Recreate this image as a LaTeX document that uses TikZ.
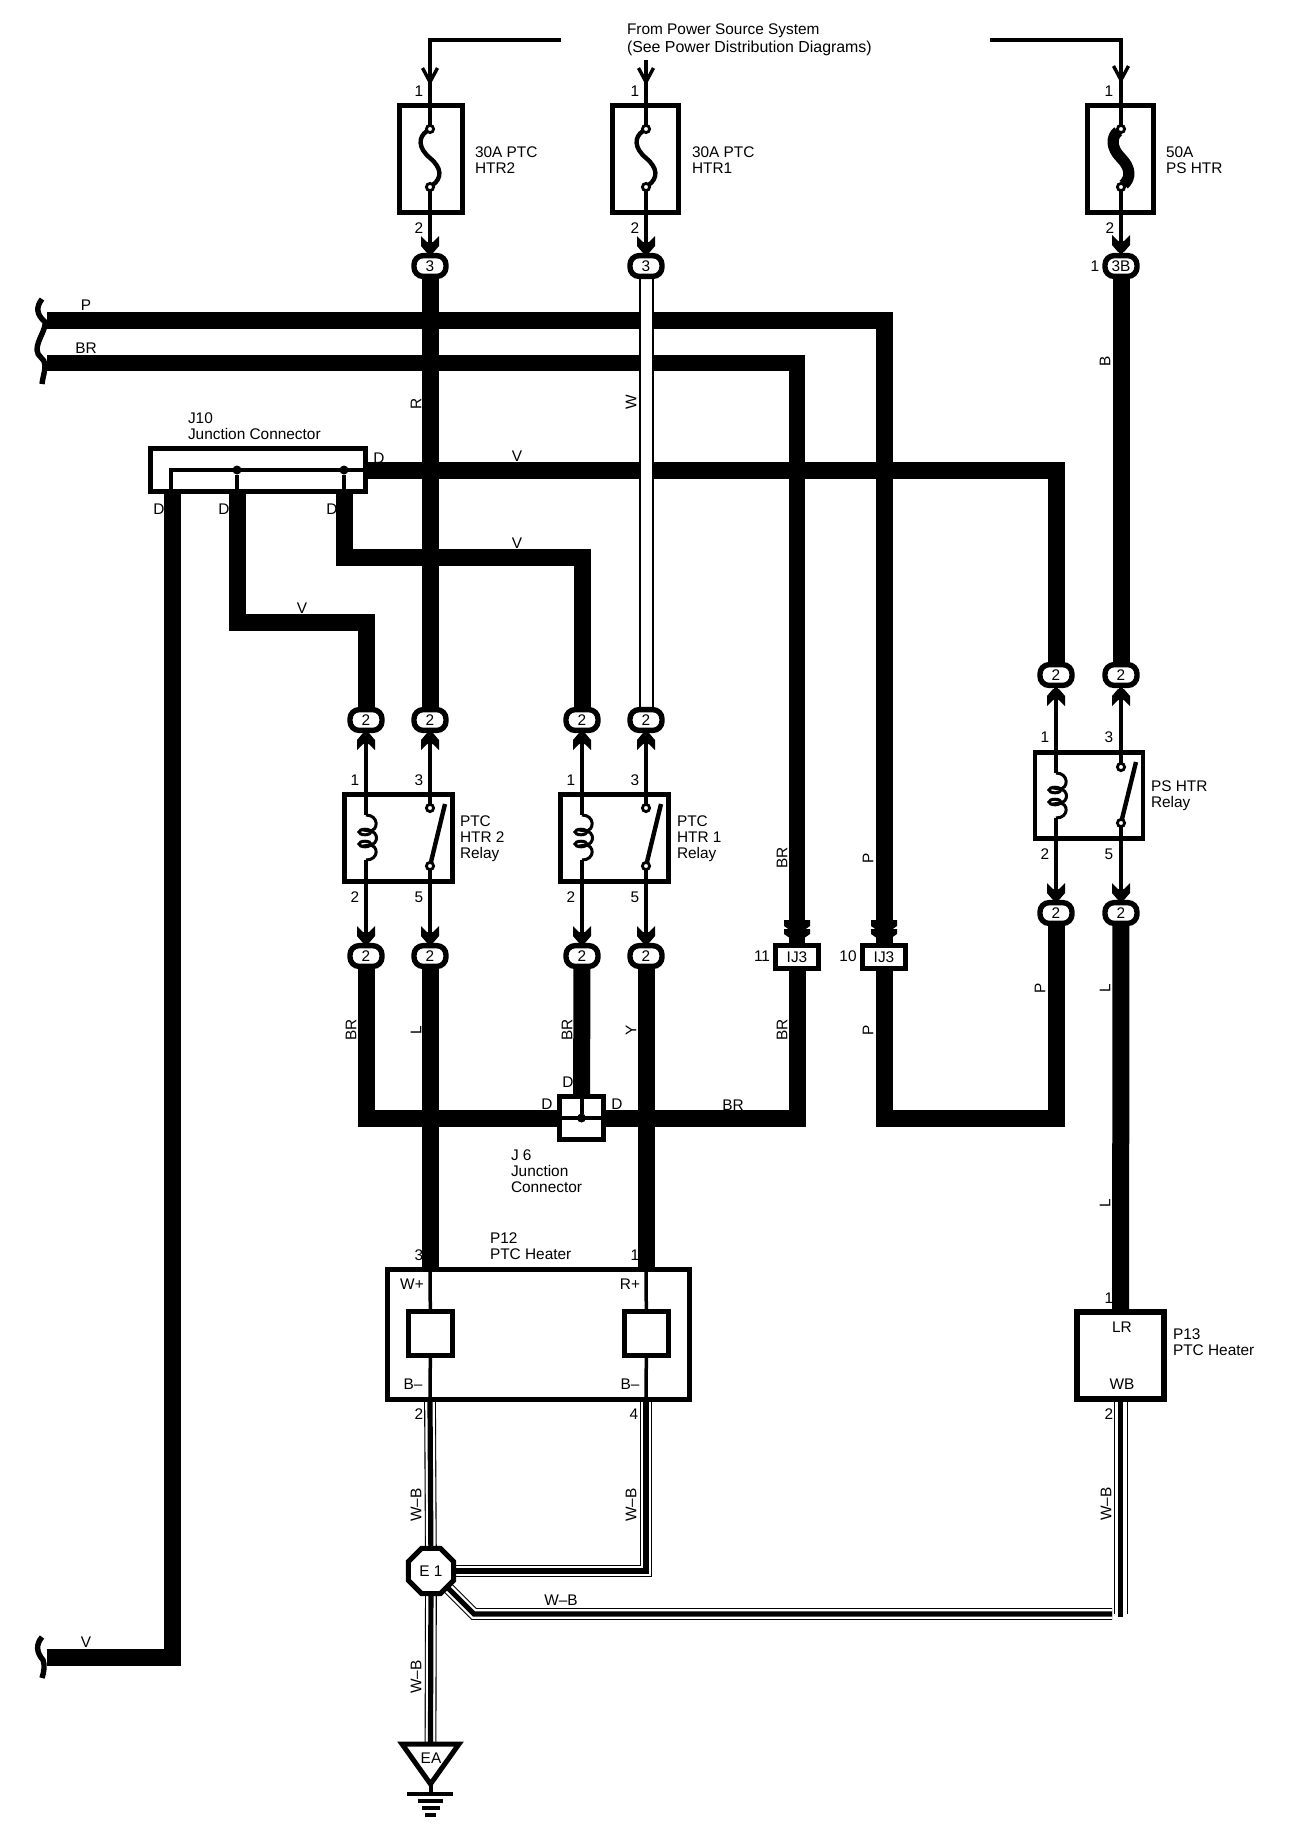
\documentclass[tikz,border=0pt]{standalone}
\usepackage{fontspec}
\setmainfont{Liberation Sans}
\usetikzlibrary{shapes.geometric,calc}
\pgfdeclarelayer{bgw}
\pgfdeclarelayer{fg}
\pgfsetlayers{bgw,main,fg}
\tikzset{
  every node/.style={inner sep=0pt,outer sep=0pt},
  lbl/.style={font=\fontsize{7.7}{8}\selectfont,align=left},
  lblw/.style={lbl,anchor=west},
  wireT/.style={line width=8.5pt,line join=miter},
  wireS/.style={line width=1.75pt},
  wb/.style={line width=4.8pt,white,line join=miter,
     preaction={draw,black,line width=5.9pt},
     postaction={draw,black,line width=2.6pt}},
  wbw/.style={line width=6pt,white,
     preaction={draw,black,line width=7pt}},
  wbs/.style={line width=2.7pt},
  fuse/.style={draw,fill=white,line width=2.5pt,minimum width=31.5pt,minimum height=53.5pt},
  relay/.style={draw,fill=white,line width=2.5pt,minimum width=54pt,minimum height=43.5pt},
  boxb/.style={draw,fill=white,line width=2.4pt},
  oval/.style={rectangle,rounded corners=4.6pt,draw,fill=white,line width=2.7pt,minimum width=16pt,minimum height=10.4pt,lbl},
  ijbox/.style={draw,fill=white,line width=2.5pt,minimum width=21.5pt,minimum height=11.5pt,lbl},
  term/.style={circle,draw,fill=white,line width=1.4pt,minimum size=3.6pt},
  jdot/.style={circle,fill=black,minimum size=4.5pt},
  blade/.style={line width=2.2pt},
  dhead/.pic={\fill (-9,-17) -- (-3,-11) -- (3,-11) -- (9,-17) -- (9,-7) -- (3,0) -- (-3,0) -- (-9,-7) -- cycle;},
  ohead/.pic={\draw[line width=1.7pt] (-7.5,-14) -- (0,0) -- (7.5,-14);},
  dchev/.pic={\fill (-13,-23) -- (13,-23) -- (13,-17) -- (0,-8) -- (-13,-17) -- cycle;
              \fill (-13,-14) -- (13,-14) -- (13,-9) -- (0,0) -- (-13,-9) -- cycle;},
  coilsym/.pic={\draw[line width=1.5pt] (0,0) .. controls (13,0) and (13,16) .. (3,16)
                 .. controls (13,16) and (13,30) .. (3,30)
                 .. controls (13,30) and (13,45) .. (0,45);
                \draw[line width=1.5pt] (-1,17) ellipse [x radius=6,y radius=2.8];
                \draw[line width=1.5pt] (-1,29) ellipse [x radius=6,y radius=2.8];}
}
\begin{document}
\begin{tikzpicture}[x=0.5pt,y=-0.5pt]
\useasboundingbox (0,0) rectangle (1312,1838);

% ---- free ends
\coordinate (topA) at (561,40);
\coordinate (topB) at (646,60);
\coordinate (topC) at (990,40);
\coordinate (pStart) at (47,320);
\coordinate (brStart) at (47,363);
\coordinate (vEnd) at (47,1657);
\coordinate (jA) at (172,470);
\coordinate (jA1) at (171,470);
\coordinate (elbB) at (300,622);
\coordinate (elbC) at (500,557);
\coordinate (pElb) at (970,1118);
\coordinate (pL) at (430,1270);
\coordinate (pR) at (646,1270);
\coordinate (pLb) at (430,1402);
\coordinate (pRb) at (646,1402);
\coordinate (elbE) at (474,1614);
\coordinate (endH) at (1112,1614);
\coordinate (p13b) at (1120.5,1402);
\coordinate (endV) at (1120.5,1614);
\coordinate (endS) at (1120.5,1617);
\coordinate (gtop) at (430.5,1744);
\coordinate (gtip) at (430.5,1784);
\coordinate (gl) at (402,1744);
\coordinate (gr) at (459,1744);
\coordinate (gb0) at (430.5,1794);

% ---- fuses
\node[fuse] (fuseA) at (431,158.5) {};
\node[fuse,minimum width=33pt] (fuseB) at (645.5,158.5) {};
\node[fuse,minimum width=33pt] (fuseC) at (1120.5,158.5) {};
\node[term] (tAt) at (430,129) {};
\node[term] (tAb) at (430,187) {};
\node[term] (tBt) at (646,129) {};
\node[term] (tBb) at (646,187) {};
\node[term] (tCt) at (1121,129) {};
\node[term] (tCb) at (1121,187) {};

% ---- connectors (ovals)
\node[oval] (ovR3) at (430,266) {3};
\node[oval] (ovW3) at (646,266) {3};
\node[oval] (ovB3) at (1121,266) {3B};
\node[oval] (ovV1) at (366,720) {2};
\node[oval] (ovR2) at (430,720) {2};
\node[oval] (ovV2) at (582,720) {2};
\node[oval] (ovW2) at (646,720) {2};
\node[oval] (ovBr1) at (366,956) {2};
\node[oval] (ovL1) at (430,956) {2};
\node[oval] (ovBr2) at (582,956) {2};
\node[oval] (ovY) at (646,956) {2};
\node[oval] (ovV3) at (1056,675) {2};
\node[oval] (ovB2) at (1121,675) {2};
\node[oval] (ovP3) at (1056,913) {2};
\node[oval] (ovL2) at (1121,913) {2};

% ---- relays
\node[relay] (relA) at (398.5,838) {};
\node[relay] (relB) at (614.5,838) {};
\node[relay,minimum height=43pt,line width=2.2pt] (relC) at (1089,795.5) {};
\node[term] (sAt) at (430,808) {};
\node[term] (sAb) at (430,866) {};
\node[term] (sBt) at (646,808) {};
\node[term] (sBb) at (646,866) {};
\node[term] (sCt) at (1121,767) {};
\node[term] (sCb) at (1121,823) {};
\coordinate (bA) at (445,804);
\coordinate (bB) at (661,804);
\coordinate (bC) at (1136,762);
\coordinate (cAt) at (366,815);
\coordinate (cAb) at (366,860);
\coordinate (cBt) at (582,815);
\coordinate (cBb) at (582,860);
\coordinate (cCt) at (1056,773);
\coordinate (cCb) at (1056,818);

% ---- junctions
\node[boxb,minimum width=107.6pt,minimum height=21.5pt] (J10) at (258,470) {};
\node[jdot] (dB) at (237,470) {};
\node[jdot] (dC) at (344,470) {};
\node[boxb,minimum width=22pt,minimum height=21.5pt] (J6) at (581.5,1118) {};
\node[jdot] (dJ) at (581.5,1118) {};
\node[ijbox] (ijA) at (797,957) {IJ3};
\node[ijbox] (ijB) at (884,957) {IJ3};

% ---- heaters
\node[boxb,minimum width=151pt,minimum height=65pt] (P12) at (538.5,1334.5) {};
\node[boxb,minimum width=22pt,minimum height=22pt] (hL) at (430.5,1333.5) {};
\node[boxb,minimum width=22pt,minimum height=22pt] (hR) at (646.5,1333.5) {};
\node[boxb,line width=2.8pt,minimum width=43.5pt,minimum height=43.5pt] (P13) at (1120.5,1355.5) {};

% ---- splice and ground
\node[regular polygon,regular polygon sides=8,draw,fill=white,line width=2.5pt,minimum size=24.5pt,lbl] (E1) at (431,1571) {E 1};

\begin{pgfonlayer}{bgw}
  \draw[wireT] (pStart) -| (ijB);
  \draw[wireT,line width=8pt] (brStart) -| (ijA);
  \draw[wireT] (J10) -| (ovV3);
  \draw[wireT] (dC) |- (elbC) -| (ovV2);
  \draw[wireT] (dB) |- (elbB) -| (ovV1);
  \draw[wireT] (jA) |- (vEnd);
  \draw[wireT] (ovR3) -- (ovR2);
  \draw[wireT] (ovB3) -- (ovB2);
  \draw[wireT] (ovL1) -- (pL);
  \draw[wireT] (ovY) -- (pR);
  \draw[wireT] (ovL2) -- (P13);
  \draw[wireT] (ovBr1) |- (J6);
  \draw[wireT] (J6) -| (ijA);
  \draw[wireT] (ovBr2) -- (J6);
  \draw[wireT] (ijB) |- (pElb) -| (ovP3);
  % white wire W
  \draw[line width=7.5pt] (ovW3) -- (ovW2);
  \draw[line width=5.5pt,white] (ovW3) -- (ovW2);
  % W-B wires
  \draw[wb] (pLb) -- (E1);
  \draw[wb] (pRb) |- (E1);
  \draw[wb] (E1) -- (elbE) -- (endH);
  \draw[wb] (E1) -- (gtop);
  \draw[wbw] (p13b) -- (endV);
  \draw[wbs] (p13b) -- (endS);
\end{pgfonlayer}

\begin{pgfonlayer}{fg}
  % supply lines
  \draw[wireS] (topA) -| (tAt);
  \draw[wireS] (topB) -- (tBt);
  \draw[wireS] (topC) -| (tCt);
  \pic at (430,82) {ohead};
  \pic at (646,82) {ohead};
  \pic at (1121,80) {ohead};
  % fuses
  \draw[line width=2.2pt] (tAt) .. controls (418,137) and (418,148) .. (430,158) .. controls (442,168) and (442,178) .. (tAb);
  \draw[line width=2.2pt] (tBt) .. controls (634,137) and (634,148) .. (646,158) .. controls (658,168) and (658,178) .. (tBb);
  \draw[line width=5.6pt] (tCt) .. controls (1111,137) and (1111,148) .. (1121,158) .. controls (1131,168) and (1131,178) .. (tCb);
  \draw[wireS] (tAb) -- (ovR3);
  \draw[wireS] (tBb) -- (ovW3);
  \draw[wireS] (tCb) -- (ovB3);
  \pic at (430,253) {dhead};
  \pic at (646,253) {dhead};
  \pic at (1121,252) {dhead};
  % relay A
  \draw[wireS] (ovV1) -- (cAt);
  \draw[wireS] (ovR2) -- (sAt);
  \draw[wireS] (cAb) -- (ovBr1);
  \draw[wireS] (sAb) -- (ovL1);
  \draw[blade] (sAb) -- (bA);
  \pic at (cAt) {coilsym};
  \pic[yscale=-1] at (366,733) {dhead};
  \pic[yscale=-1] at (430,733) {dhead};
  \pic at (366,943) {dhead};
  \pic at (430,943) {dhead};
  % relay B
  \draw[wireS] (ovV2) -- (cBt);
  \draw[wireS] (ovW2) -- (sBt);
  \draw[wireS] (cBb) -- (ovBr2);
  \draw[wireS] (sBb) -- (ovY);
  \draw[blade] (sBb) -- (bB);
  \pic at (cBt) {coilsym};
  \pic[yscale=-1] at (582,733) {dhead};
  \pic[yscale=-1] at (646,733) {dhead};
  \pic at (582,943) {dhead};
  \pic at (646,943) {dhead};
  % relay C
  \draw[wireS] (ovV3) -- (cCt);
  \draw[wireS] (ovB2) -- (sCt);
  \draw[wireS] (cCb) -- (ovP3);
  \draw[wireS] (sCb) -- (ovL2);
  \draw[blade] (sCb) -- (bC);
  \pic at (cCt) {coilsym};
  \pic[yscale=-1] at (1056,689) {dhead};
  \pic[yscale=-1] at (1121,689) {dhead};
  \pic at (1056,900) {dhead};
  \pic at (1121,900) {dhead};
  % IJ3 terminals
  \pic at (797,943) {dchev};
  \pic at (884,943) {dchev};
  % J10 inside
  \draw[line width=2pt] (J10.east) -- (jA1) -- (jA1 |- J10.south);
  \draw[line width=2pt] (dB) -- (dB |- J10.south);
  \draw[line width=2pt] (dC) -- (dC |- J10.south);
  % J6 inside
  \draw[line width=2pt] (J6.west) -- (J6.east);
  \draw[line width=2pt] (J6.north) -- (dJ);
  % P12 inside
  \draw[wireS] (pL) -- (hL);
  \draw[wireS] (hL) -- (pLb);
  \draw[wireS] (pR) -- (hR);
  \draw[wireS] (hR) -- (pRb);
  % cut marks
  \draw[line width=2.7pt] (42,299) .. controls (36,307) and (36,314) .. (45,322) .. controls (46,330) and (37,340) .. (37,350) .. controls (37,357) and (45,358) .. (45,365) .. controls (45,372) and (43,376) .. (42,384);
  \draw[line width=2.7pt] (42,1637) .. controls (36,1644) and (36,1652) .. (43,1660) .. controls (45,1665) and (44,1672) .. (42,1678);
  % ground
  \draw[line width=2.5pt,fill=white,line join=miter] (gl) -- (gr) -- (gtip) -- cycle;
  \draw[line width=2pt] (gtip) -- (gb0);
  \draw[line width=2.2pt] (407,1794) -- (453,1794);
  \draw[line width=2.2pt] (418,1801) -- (443,1801);
  \draw[line width=2pt] (422,1808) -- (440,1808);
  \draw[line width=2pt] (425,1815) -- (436,1815);
  \node[lbl] (nEA) at (431,1758) {EA};

  % ---- texts
  \node[lblw,font=\fontsize{7.7}{9.2}\selectfont] (nFrom) at (627,39.5) {From Power Source System\\{\fontsize{7.95}{9.2}\selectfont (See Power Distribution Diagrams)}};
  \node[lblw] (nFA) at (475,160) {30A PTC\\HTR2};
  \node[lblw] (nFB) at (692,160) {30A PTC\\HTR1};
  \node[lblw] (nFC) at (1166,160) {50A\\PS HTR};
  \node[lbl] (n1a) at (419,91) {1};
  \node[lbl] (n1b) at (635,91) {1};
  \node[lbl] (n1c) at (1109,91) {1};
  \node[lbl] (n2a) at (419,228) {2};
  \node[lbl] (n2b) at (635,228) {2};
  \node[lbl] (n2c) at (1110,228) {2};
  \node[lbl] (n1d) at (1095,266) {1};
  \node[lbl] (nP) at (86,305) {P};
  \node[lbl] (nBR) at (86,348) {BR};
  \node[lblw] (nJ10) at (188,426) {J10\\Junction Connector};
  \node[lbl] (nD1) at (379,458) {D};
  \node[lbl] (nD2) at (159,509) {D};
  \node[lbl] (nD3) at (224,509) {D};
  \node[lbl] (nD4) at (332,509) {D};
  \node[lbl] (nV1) at (517,456) {V};
  \node[lbl] (nV2) at (517,543) {V};
  \node[lbl] (nV3) at (302,608) {V};
  \node[lbl] (nV4) at (86,1642) {V};
  \node[lbl,rotate=90] (nR) at (416,404) {R};
  \node[lbl,rotate=90] (nW) at (631,402) {W};
  \node[lbl,rotate=90] (nB) at (1105,361) {B};
  \node[lbl] (r1a) at (355,780) {1};
  \node[lbl] (r3a) at (419,780) {3};
  \node[lbl] (r2a) at (355,897) {2};
  \node[lbl] (r5a) at (419,897) {5};
  \node[lbl] (r1b) at (571,780) {1};
  \node[lbl] (r3b) at (635,780) {3};
  \node[lbl] (r2b) at (571,897) {2};
  \node[lbl] (r5b) at (635,897) {5};
  \node[lbl] (r1c) at (1045,737) {1};
  \node[lbl] (r3c) at (1109,737) {3};
  \node[lbl] (r2c) at (1045,854) {2};
  \node[lbl] (r5c) at (1109,854) {5};
  \node[lblw] (nRA) at (460,839) {PTC\\HTR 2\\Relay};
  \node[lblw] (nRB) at (677,839) {PTC\\HTR 1\\Relay};
  \node[lblw] (nRC) at (1151,796) {PS HTR\\Relay};
  \node[lbl,rotate=90] (wBRu) at (782,858) {BR};
  \node[lbl,rotate=90] (wPu) at (868,858) {P};
  \node[lbl] (n11) at (762,956) {11};
  \node[lbl] (n10) at (848,956) {10};
  \node[lbl,rotate=90] (wBRa) at (351,1030) {BR};
  \node[lbl,rotate=90] (wLa) at (416,1030) {L};
  \node[lbl,rotate=90] (wBRb) at (567,1030) {BR};
  \node[lbl,rotate=90] (wYa) at (631,1030) {Y};
  \node[lbl,rotate=90] (wBRc) at (782,1030) {BR};
  \node[lbl,rotate=90] (wPa) at (868,1030) {P};
  \node[lbl,rotate=90] (wPb) at (1040,988) {P};
  \node[lbl,rotate=90] (wLb) at (1105,988) {L};
  \node[lbl,rotate=90] (wLc) at (1105,1203) {L};
  \node[lbl] (wBRh) at (733,1105) {BR};
  \node[lbl] (nDa) at (547,1104) {D};
  \node[lbl] (nDb) at (617,1104) {D};
  \node[lbl] (nDc) at (568,1082) {D};
  \node[lblw] (nJ6) at (511,1171) {J 6\\Junction\\Connector};
  \node[lblw] (nP12) at (490,1246) {P12\\PTC Heater};
  \node[lbl] (n3p) at (419,1255) {3};
  \node[lbl] (n1p) at (635,1255) {1};
  \node[lbl] (nWp) at (412,1284) {W+};
  \node[lbl] (nRp) at (630,1284) {R+};
  \node[lbl] (nBl) at (413,1384) {B–};
  \node[lbl] (nBr) at (630,1384) {B–};
  \node[lbl] (n2p) at (419,1414) {2};
  \node[lbl] (n4p) at (634,1414) {4};
  \node[lbl] (nLR) at (1122,1327) {LR};
  \node[lbl] (nWB) at (1122,1384) {WB};
  \node[lbl] (n1h) at (1109,1298) {1};
  \node[lbl] (n2h) at (1109,1414) {2};
  \node[lblw] (nP13) at (1173,1342) {P13\\PTC Heater};
  \node[lbl,rotate=90] (wb1) at (416,1505) {W–B};
  \node[lbl,rotate=90] (wb2) at (631,1505) {W–B};
  \node[lbl,rotate=90] (wb3) at (416,1677) {W–B};
  \node[lbl,rotate=90] (wb4) at (1106,1504) {W–B};
  \node[lbl] (wb5) at (561,1600) {W–B};
\end{pgfonlayer}
\end{tikzpicture}
\end{document}
